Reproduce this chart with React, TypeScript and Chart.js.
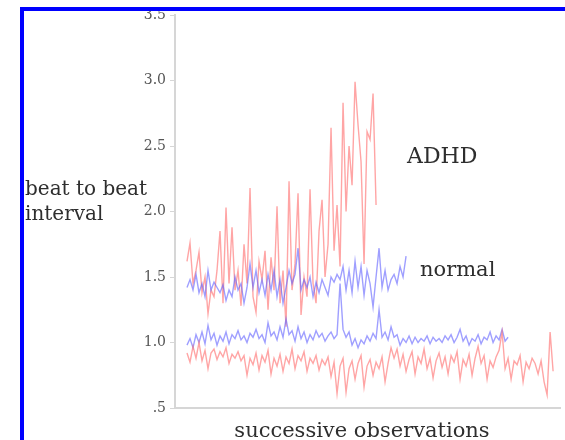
import React, { useEffect, useRef } from "react";
import { Chart, registerables } from "chart.js";

Chart.register(...registerables);

// y tick values
const yTicks = [0.5, 1.0, 1.5, 2.0, 2.5, 3.0, 3.5];

// ADHD subject, upper trace
const adhdUpper = [
  1.62, 1.76, 1.45, 1.55, 1.69, 1.38, 1.5, 1.22, 1.4, 1.35, 1.55, 1.85, 1.3, 2.03, 1.45, 1.88,
  1.4, 1.55, 1.28, 1.75, 1.45, 2.18, 1.35, 1.23, 1.62, 1.48, 1.7, 1.25, 1.65, 1.4, 2.04, 1.3,
  1.55, 1.12, 2.23, 1.4, 1.6, 2.14, 1.21, 1.5, 1.35, 2.17, 1.45, 1.3, 1.85, 2.09, 1.5, 1.75,
  2.64, 1.7, 2.05, 1.58, 2.83, 2.0, 2.5, 2.2, 2.99, 2.66, 2.38, 1.6, 2.61, 2.55, 2.9, 2.05,
];

// normal subject, upper trace
const normalUpper = [
  1.42, 1.48, 1.4, 1.52, 1.38, 1.45, 1.35, 1.55, 1.4, 1.46, 1.42, 1.38, 1.44, 1.32, 1.4, 1.35,
  1.5, 1.4, 1.45, 1.3, 1.42, 1.6, 1.42, 1.55, 1.38, 1.48, 1.36, 1.52, 1.4, 1.55, 1.35, 1.48,
  1.3, 1.42, 1.55, 1.45, 1.52, 1.72, 1.4, 1.48, 1.42, 1.5, 1.35, 1.46, 1.38, 1.48, 1.42, 1.36,
  1.5, 1.46, 1.52, 1.48, 1.58, 1.4, 1.55, 1.38, 1.62, 1.42, 1.58, 1.36, 1.55, 1.45, 1.27, 1.5,
  1.72, 1.42, 1.55, 1.4, 1.48, 1.52, 1.45, 1.58, 1.5, 1.66,
];

// normal subject, lower trace
const normalLower = [
  0.98, 1.03, 0.96, 1.06, 1.0, 1.08, 0.99, 1.13, 1.02, 1.07, 0.98, 1.05, 1.01, 1.08, 0.99, 1.06,
  1.03, 1.09, 1.02, 1.05, 1.0, 1.07, 1.04, 1.1, 1.03, 1.06, 1.0, 1.15, 1.05, 1.08, 1.02, 1.12,
  1.04, 1.18, 1.06, 1.09, 1.01, 1.12, 1.03, 1.08, 1.0, 1.06, 1.02, 1.09, 1.04, 1.07, 1.01, 1.05,
  1.08, 1.03, 1.06, 1.45, 1.1, 1.04, 1.08, 0.98, 1.03, 0.96, 1.02, 0.99, 1.05, 1.01, 1.07, 1.03,
  1.25, 1.04, 1.08, 1.02, 1.12, 1.04, 1.06, 0.98, 1.03, 1.0, 1.05, 0.99, 1.04, 1.0, 1.03, 1.01,
  1.05, 0.99, 1.04, 1.01, 1.03, 1.0, 1.05, 1.02, 1.06, 1.0, 1.04, 1.1, 1.01, 1.05, 0.98, 1.03,
  1.01, 1.06, 0.99, 1.04, 1.02, 1.08, 1.0, 1.05, 1.02, 1.1, 1.01, 1.04,
];

// ADHD subject, lower trace
const adhdLower = [
  0.92, 0.85, 0.97, 0.88, 1.0, 0.86, 0.94, 0.8, 0.92, 0.95, 0.87, 0.93, 0.89, 0.96, 0.84, 0.91,
  0.88, 0.93, 0.86, 0.9, 0.75, 0.88, 0.83, 0.92, 0.79, 0.9, 0.85, 0.94, 0.76, 0.88, 0.82, 0.91,
  0.78, 0.89, 0.84, 0.95, 0.8, 0.9, 0.86, 0.93, 0.78, 0.88, 0.84, 0.9, 0.79, 0.87, 0.83, 0.89,
  0.74, 0.85, 0.61, 0.82, 0.88, 0.62, 0.8, 0.86, 0.72, 0.84, 0.9, 0.66, 0.82, 0.87, 0.75, 0.85,
  0.8, 0.89, 0.7, 0.84, 0.96, 0.88, 0.95, 0.82, 0.91, 0.78, 0.87, 0.93, 0.76, 0.89, 0.84, 0.95,
  0.8, 0.88, 0.73, 0.86, 0.92, 0.81, 0.89, 0.76, 0.9, 0.85, 0.93, 0.72, 0.87, 0.82, 0.91, 0.75,
  0.88, 0.97, 0.84, 0.9, 0.72, 0.86, 0.81, 0.89, 0.94, 1.08, 0.8, 0.88, 0.72, 0.86, 0.83, 0.9,
  0.7, 0.85, 0.8, 0.88, 0.84, 0.76, 0.86, 0.7, 0.6, 1.08, 0.78,
];

const yTitleLines = ["beat to beat", "interval"];
const xTitle = "successive observations";
const adhdLabel = "ADHD";
const normalLabel = "normal";

const RED = "rgba(255, 105, 105, 0.6)";
const BLUE = "rgba(95, 95, 255, 0.6)";
const FONT = "'DejaVu Serif', serif";

const toPoints = (arr: number[]) => arr.map((v, i) => ({ x: i, y: v }));

const textPlugin = {
  id: "texts",
  afterDraw(chart: any) {
    const ctx = chart.ctx;
    ctx.save();
    ctx.fillStyle = "#2e2e2e";
    ctx.textAlign = "left";
    ctx.textBaseline = "alphabetic";
    ctx.font = `20px ${FONT}`;
    ctx.fillText(yTitleLines[0], 25, 195);
    ctx.fillText(yTitleLines[1], 25, 220);
    ctx.font = `22px ${FONT}`;
    ctx.fillText(adhdLabel, 407, 163);
    ctx.font = `21px ${FONT}`;
    ctx.fillText(normalLabel, 420, 276);
    ctx.textAlign = "center";
    ctx.fillText(xTitle, 362, 437);
    ctx.restore();
  },
};

export default function App() {
  const ref = useRef<HTMLCanvasElement>(null);

  useEffect(() => {
    if (!ref.current) return;
    const chart = new Chart(ref.current, {
      type: "line",
      data: {
        datasets: [
          { label: "ADHD lower", data: toPoints(adhdLower), borderColor: RED },
          { label: "normal lower", data: toPoints(normalLower), borderColor: BLUE },
          { label: "normal upper", data: toPoints(normalUpper), borderColor: BLUE },
          { label: "ADHD upper", data: toPoints(adhdUpper), borderColor: RED },
        ].map((d) => ({
          ...d,
          borderWidth: 1.4,
          pointRadius: 0,
          tension: 0,
          fill: false,
        })),
      },
      options: {
        responsive: false,
        animation: false,
        layout: { padding: { top: 15, right: 5, left: 0, bottom: 0 } },
        plugins: {
          legend: { display: false },
          tooltip: { enabled: false },
        },
        scales: {
          x: {
            type: "linear",
            min: -4,
            max: 124.3,
            ticks: { display: false },
            grid: { display: false },
            border: { display: true, color: "#d6d6d6", width: 2 },
            afterFit: (s: any) => {
              s.height = 32;
            },
          },
          y: {
            min: 0.5,
            max: 3.5,
            afterBuildTicks: (s: any) => {
              s.ticks = yTicks.map((v) => ({ value: v }));
            },
            ticks: {
              color: "#555",
              font: { family: FONT, size: 14 },
              padding: 4,
              callback: (v: any) => (Number(v) === 0.5 ? ".5" : Number(v).toFixed(1)),
            },
            grid: {
              drawOnChartArea: false,
              drawTicks: true,
              tickLength: 5,
              color: "#d6d6d6",
            },
            border: { display: true, color: "#d6d6d6", width: 2 },
            afterFit: (s: any) => {
              s.width = 175;
            },
          },
        },
      },
      plugins: [textPlugin],
    });
    return () => chart.destroy();
  }, []);

  return (
    <div
      style={{
        position: "fixed",
        left: 0,
        top: 0,
        width: 565,
        height: 440,
        background: "#fff",
        overflow: "hidden",
      }}
    >
      <canvas ref={ref} width={565} height={440} style={{ position: "absolute", left: 0, top: 0 }} />
      <div
        style={{
          position: "absolute",
          left: 20,
          top: 7,
          width: 600,
          height: 500,
          borderLeft: "4px solid #0000ff",
          borderTop: "4px solid #0000ff",
          pointerEvents: "none",
        }}
      />
    </div>
  );
}
